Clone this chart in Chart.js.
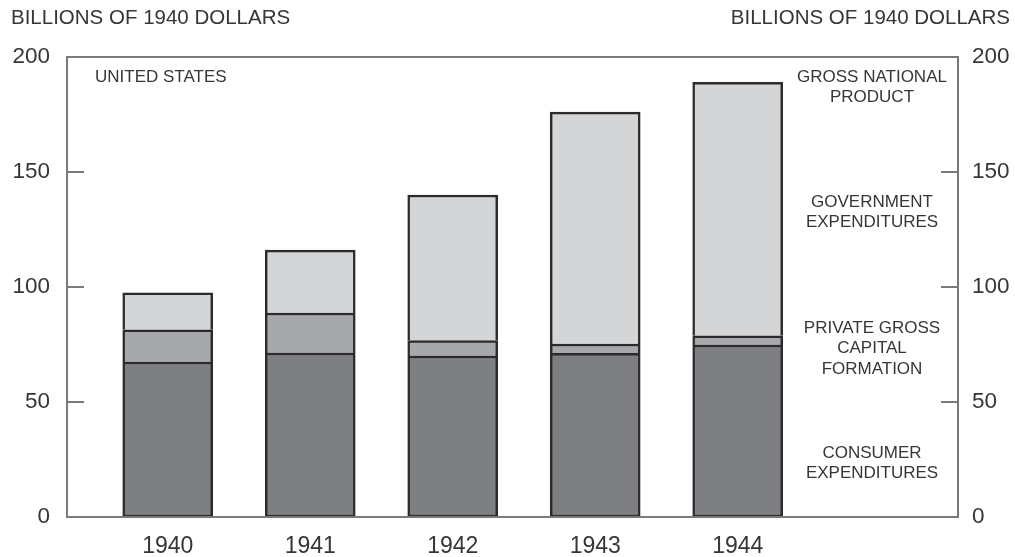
<!DOCTYPE html>
<html>
<head>
<meta charset="utf-8">
<script src="https://cdn.jsdelivr.net/npm/chart.js@4"></script>
<style>
  html, body { margin: 0; padding: 0; background: #fff; }
  #wrap { width: 1015px; height: 557px; }
</style>
</head>
<body>
<div id="wrap"><canvas id="gnpChart" width="1015" height="557"></canvas></div>
<script>
// data (billions of 1940 dollars)
const years = [1940, 1941, 1942, 1943, 1944]
const consumer = [67.4, 71.3, 70.0, 71.2, 74.8]
const privateCapital = [14.0, 17.4, 6.7, 4.0, 4.0]
const government = [16.1, 27.3, 63.3, 100.8, 110.2]
const yTicks = [0, 50, 100, 150, 200]

const textColor = '#363636'
const frameColor = '#7a7a7a'
const fontFamily = '"Liberation Sans", Arial, sans-serif'

// side notes drawn over the plot
const sideNotes = [
    { lines: ['GROSS NATIONAL', 'PRODUCT'], y: 77 },
    { lines: ['GOVERNMENT', 'EXPENDITURES'], y: 202 },
    { lines: ['PRIVATE GROSS', 'CAPITAL', 'FORMATION'], y: 328 },
    { lines: ['CONSUMER', 'EXPENDITURES'], y: 453 }
]

const framePlugin = {
    id: 'frame',
    afterDraw(chart) {
        const ctx = chart.ctx
        const area = chart.chartArea
        const yScale = chart.scales.y
        ctx.save()
        ctx.strokeStyle = frameColor
        ctx.lineWidth = 2
        ctx.strokeRect(area.left, area.top, area.right - area.left, area.bottom - area.top)

        // inward tick marks on both sides
        yTicks.forEach(v => {
            let py = Math.round(yScale.getPixelForValue(v))
            ctx.beginPath()
            ctx.moveTo(area.left, py)
            ctx.lineTo(area.left + 17, py)
            ctx.moveTo(area.right - 17, py)
            ctx.lineTo(area.right, py)
            ctx.stroke()
        })

        ctx.fillStyle = textColor
        ctx.textBaseline = 'middle'
        ctx.font = '20.5px ' + fontFamily
        ctx.textAlign = 'left'
        ctx.fillText('BILLIONS OF 1940 DOLLARS', 11, 18)
        ctx.textAlign = 'right'
        ctx.fillText('BILLIONS OF 1940 DOLLARS', 1010, 18)

        ctx.font = '17px ' + fontFamily
        ctx.textAlign = 'left'
        ctx.fillText('UNITED STATES', 95, 77)

        ctx.textAlign = 'center'
        ctx.font = '17px ' + fontFamily
        sideNotes.forEach(note => {
            note.lines.forEach((line, i) => {
                ctx.fillText(line, 872, note.y + i * 20.5)
            })
        })
        ctx.restore()
    }
}

const barStyle = {
    borderColor: '#2b2b2b',
    borderWidth: 2.5,
    barThickness: 90
}

new Chart(document.getElementById('gnpChart').getContext('2d'), {
    type: 'bar',
    data: {
        datasets: [
            Object.assign({ label: 'Consumer expenditures', backgroundColor: '#7e7f83', borderSkipped: false,
                data: years.map((y, i) => ({ x: y, y: consumer[i] })) }, barStyle),
            Object.assign({ label: 'Private gross capital formation', backgroundColor: '#a7a8ab', borderSkipped: 'bottom',
                data: years.map((y, i) => ({ x: y, y: privateCapital[i] })) }, barStyle),
            Object.assign({ label: 'Government expenditures', backgroundColor: '#d4d5d7', borderSkipped: 'bottom',
                data: years.map((y, i) => ({ x: y, y: government[i] })) }, barStyle)
        ]
    },
    options: {
        responsive: false,
        animation: false,
        layout: { padding: { top: 57, left: 0, right: 0, bottom: 0 } },
        plugins: { legend: { display: false }, tooltip: { enabled: false } },
        scales: {
            x: {
                type: 'linear',
                stacked: true,
                offset: false,
                min: 1939.293,
                max: 1945.546,
                afterBuildTicks: axis => { axis.ticks = years.map(v => ({ value: v })) },
                afterFit: axis => { axis.height = 40 },
                grid: { display: false, drawTicks: false },
                border: { display: false },
                ticks: {
                    color: textColor,
                    font: { size: 23, family: fontFamily },
                    padding: 16,
                    callback: v => String(v)
                }
            },
            y: {
                position: 'left',
                stacked: true,
                min: 0,
                max: 200,
                afterBuildTicks: axis => { axis.ticks = yTicks.map(v => ({ value: v })) },
                afterFit: axis => { axis.width = 67 },
                grid: { display: false, drawTicks: false },
                border: { display: false },
                ticks: { color: textColor, font: { size: 22.5, family: fontFamily }, padding: 17 }
            },
            y2: {
                position: 'right',
                min: 0,
                max: 200,
                afterBuildTicks: axis => { axis.ticks = yTicks.map(v => ({ value: v })) },
                afterFit: axis => { axis.width = 57 },
                grid: { display: false, drawTicks: false },
                border: { display: false },
                ticks: { color: textColor, font: { size: 22.5, family: fontFamily }, padding: 14 }
            }
        }
    },
    plugins: [framePlugin]
})
</script>
</body>
</html>
